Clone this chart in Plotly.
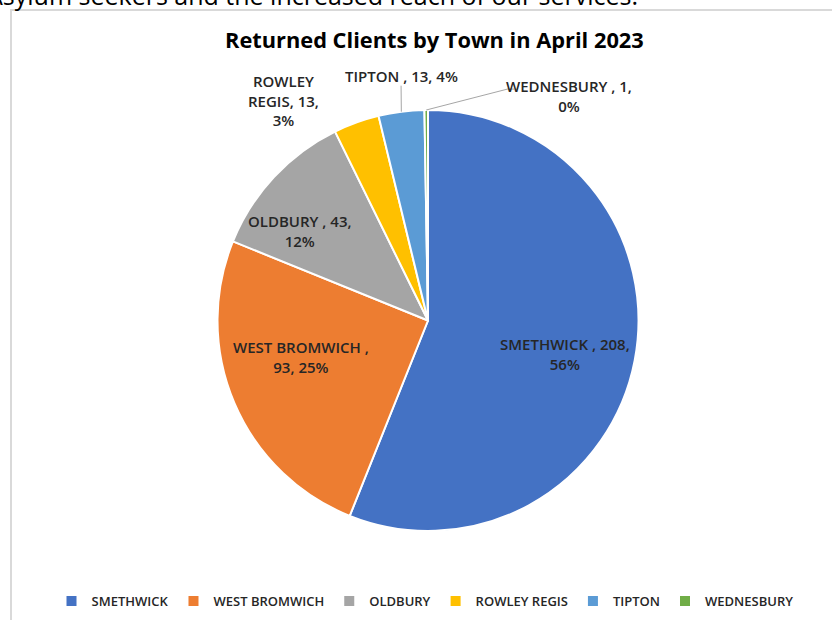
import math
import plotly.graph_objects as go

# data
towns = ["SMETHWICK", "WEST BROMWICH", "OLDBURY", "ROWLEY REGIS", "TIPTON", "WEDNESBURY"]
clients = [208, 93, 43, 13, 13, 1]
pct_labels = ["56%", "25%", "12%", "3%", "4%", "0%"]
colors = ["#4472C4", "#ED7D31", "#A5A5A5", "#FFC000", "#5B9BD5", "#70AD47"]

W, H = 832, 620
# pie geometry in pixels
CX, CY, R = 428, 320.5, 210.5

def px(x):
    return x / W

def py(y):
    return 1 - y / H

# label placement (radius factor, angle offset) per slice
label_r = [0.67, 0.63, 0.74, 1.25, 1.17, 1.26]
label_da = [3, 7, -8, -13.5, 1, 32.7]
label_text = [
    "SMETHWICK , %d,<br>%s" % (clients[0], pct_labels[0]),
    "WEST BROMWICH ,<br>%d, %s" % (clients[1], pct_labels[1]),
    "OLDBURY , %d,<br>%s" % (clients[2], pct_labels[2]),
    "ROWLEY<br>REGIS, %d,<br>%s" % (clients[3], pct_labels[3]),
    "TIPTON , %d, %s" % (clients[4], pct_labels[4]),
    "WEDNESBURY , %d,<br>%s" % (clients[5], pct_labels[5]),
]

fig = go.Figure(go.Pie(
    labels=towns,
    values=clients,
    sort=False,
    direction="clockwise",
    rotation=0,
    marker=dict(colors=colors, line=dict(color="white", width=2)),
    textinfo="none",
    hoverinfo="label+value+percent",
    domain=dict(x=[px(CX - R), px(CX + R)], y=[py(CY + R), py(CY - R)]),
))

total = sum(clients)
ann = []
shapes = []
start = 0
mids = []
for v in clients:
    span = v / total * 360
    mids.append(start + span / 2)
    start += span

pos = []
for i in range(len(clients)):
    th = math.radians(mids[i] + label_da[i])
    lx = CX + label_r[i] * R * math.sin(th)
    ly = CY - label_r[i] * R * math.cos(th)
    pos.append((lx, ly))
    ann.append(dict(x=px(lx), y=py(ly), xref="paper", yref="paper", text=label_text[i],
                    xanchor="center", yanchor="middle", showarrow=False,
                    font=dict(family="Open Sans", size=15, color="#262626", weight=600),
                    align="center"))

# leader lines for the two small outside labels
def edge(i):
    th = math.radians(mids[i])
    return CX + R * math.sin(th), CY - R * math.cos(th)

ex, ey = edge(4)
tx, ty = pos[4]
shapes.append(dict(type="line", xref="paper", yref="paper", x0=px(ex), y0=py(ey), x1=px(tx), y1=py(ty + 10),
                   line=dict(color="#A6A6A6", width=1)))
ex, ey = edge(5)
tx, ty = pos[5]
shapes.append(dict(type="path", xref="paper", yref="paper",
                   path="M %f,%f L %f,%f L %f,%f" % (px(ex), py(ey), px(tx - 62), py(ty - 7), px(tx - 55), py(ty - 7)),
                   line=dict(color="#A6A6A6", width=1)))

# chart area border
shapes.append(dict(type="rect", xref="paper", yref="paper", x0=px(11), y0=py(640), x1=px(860), y1=py(10),
                   line=dict(color="#D9D9D9", width=2), layer="below"))

# cut-off line of document text above the chart
ann.append(dict(x=px(640), y=py(14), xref="paper", yref="paper", xanchor="right", yanchor="bottom",
                text="Asylum seekers and the increased reach of our services.", showarrow=False,
                font=dict(family="Open Sans", size=25, color="#000000")))

ann.append(dict(x=px(434), y=py(40), xref="paper", yref="paper", xanchor="center", yanchor="middle",
                text="<b>Returned Clients by Town in April 2023</b>",
                showarrow=False, font=dict(family="Open Sans", size=21.8, color="#000000")))

fig.update_layout(
    width=W, height=H,
    margin=dict(l=0, r=0, t=0, b=0),
    paper_bgcolor="white",
    annotations=ann,
    shapes=shapes,
    showlegend=True,
    legend=dict(orientation="h", x=px(425), xanchor="center", y=py(601), yanchor="middle",
                font=dict(family="Open Sans", size=13, color="#262626", weight=600),
                itemwidth=30, traceorder="normal"),
)

fig.write_html("out.html", config={"displayModeBar": False},
               post_script="document.body.style.margin='0';")
